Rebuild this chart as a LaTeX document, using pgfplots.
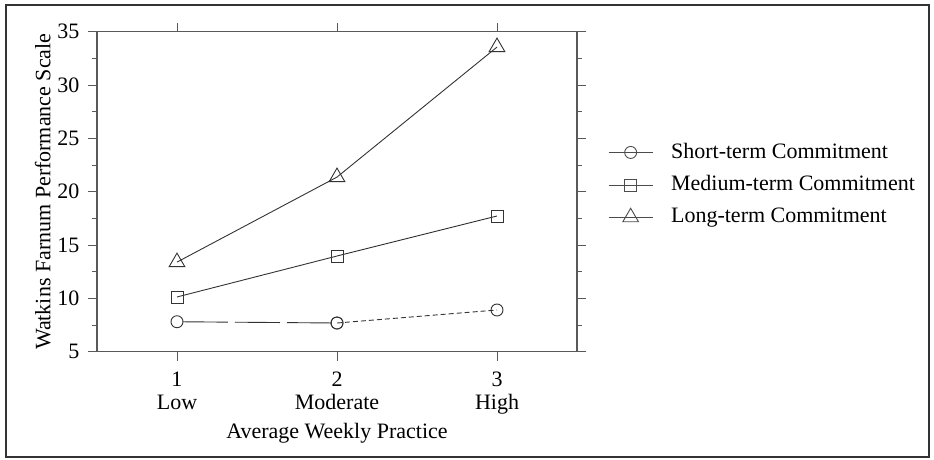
\documentclass[border=0pt]{standalone}
\usepackage{pgfplots}
\pgfplotsset{compat=1.18}
\usepackage{fontspec}
\setmainfont{Liberation Serif}
\begin{document}
\fontsize{22}{24}\selectfont
\begin{tikzpicture}
\useasboundingbox (-97pt,-107.3pt) rectangle (837pt,351.7pt);
\draw[black!80, line width=1.2pt] (-91pt,-105.3pt) rectangle (832pt,346.7pt);
\begin{axis}[
  at={(0pt,0pt)}, anchor=south west,
  scale only axis, width=480pt, height=320pt,
  xmin=0.5, xmax=3.5, ymin=5, ymax=35,
  xtick={1,2,3},
  xticklabels={{1\\Low},{2\\Moderate},{3\\High}},
  xticklabel style={align=center, font=\fontsize{22}{22.5}\selectfont, yshift=-4pt},
  yticklabel style={font=\fontsize{22}{24}\selectfont, xshift=-1pt},
  ytick={5,10,...,35},
  minor y tick num=1,
  tick align=outside,
  major tick length=9pt, minor tick length=5pt,
  axis line style={black!65, line width=1.1pt},
  every tick/.style={black!65, line width=0.9pt},
  /pgf/number format/assume math mode=true,
  xlabel={Average Weekly Practice},
  ylabel={Watkins Farnum Performance Scale},
  xlabel style={yshift=6pt},
  ylabel style={yshift=-8pt},
  legend style={at={(1.0646,0.522)}, anchor=west, draw=none, fill=none,
    font=\fontsize{22}{24}\selectfont, row sep=9pt, inner sep=0pt,
    nodes={inner xsep=1pt, inner ysep=2.5pt},
    /tikz/every odd column/.append style={column sep=17pt}},
  legend cell align=left,
  legend image code/.code={\draw[mark repeat=2,mark phase=2] plot coordinates {(0pt,0pt)(22pt,0pt)(44pt,0pt)};},
]
\addplot[forget plot, black!80, line width=0.9pt, mark=o, mark size=6pt,
  mark options={fill=white, solid}, dash pattern=on 45pt off 7pt, dash phase=46pt]
  coordinates {(1,7.81)(2,7.69)};
\addplot[forget plot, black!80, line width=0.9pt, mark=o, mark size=6pt,
  mark options={fill=white, solid}, dash pattern=on 5pt off 3pt]
  coordinates {(2,7.69)(3,8.91)};
\addplot[forget plot, black!80, line width=0.9pt, mark=square, mark size=6pt,
  mark options={fill=white, solid}]
  coordinates {(1,10.13)(2,13.97)(3,17.72)};
\addplot[forget plot, black!80, line width=0.9pt, mark=triangle, mark size=9pt,
  mark options={fill=white, solid}]
  coordinates {(1,13.4)(2,21.37)(3,33.56)};
\addlegendimage{black!70, line width=0.9pt, mark=o, mark size=6pt, mark options={fill=white}}
\addlegendentry{Short-term Commitment}
\addlegendimage{black!70, line width=0.9pt, mark=square, mark size=6pt, mark options={fill=white}}
\addlegendentry{Medium-term Commitment}
\addlegendimage{black!70, line width=0.9pt, mark=triangle, mark size=9pt, mark options={fill=white}}
\addlegendentry{Long-term Commitment}
\end{axis}
\end{tikzpicture}
\end{document}
